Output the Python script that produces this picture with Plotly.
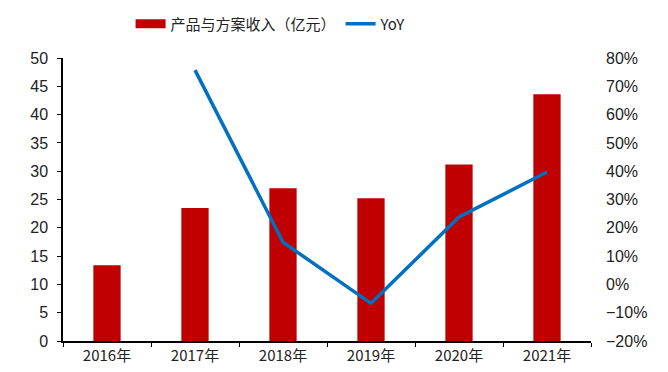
import plotly.graph_objects as go

# Annual product & solution revenue (100M CNY) and its year-over-year growth
years = ["2016年", "2017年", "2018年", "2019年", "2020年", "2021年"]
revenue = [13.4, 23.5, 27.0, 25.2, 31.2, 43.6]
yoy = [None, 0.757, 0.149, -0.067, 0.238, 0.397]

left_ticks = list(range(0, 55, 5))
right_ticks = [-0.2, -0.1, 0.0, 0.1, 0.2, 0.3, 0.4, 0.5, 0.6, 0.7, 0.8]

font_main = "Liberation Sans, Arial, sans-serif"
font_cjk = "Noto Sans CJK SC, sans-serif"
bar_color = "#C00000"
line_color = "#0070C0"
bar_name = "产品与方案收入（亿元）"

fig = go.Figure()
fig.add_trace(go.Bar(
    x=years, y=revenue, name=bar_name, showlegend=False,
    legendgroup="rev",
    marker=dict(color=bar_color, line=dict(width=0)),
    width=0.31, yaxis="y",
))
# legend key for the bars drawn as a wide flat swatch
fig.add_trace(go.Scatter(
    x=[None], y=[None], name=bar_name, mode="lines", legendgroup="rev",
    line=dict(color=bar_color, width=9), yaxis="y",
))
fig.add_trace(go.Scatter(
    x=years, y=yoy, name="YoY", mode="lines",
    line=dict(color=line_color, width=3.5),
    yaxis="y2", connectgaps=False,
))

fig.update_layout(
    width=668, height=372,
    margin=dict(l=63, r=77, t=58, b=31, autoexpand=False),
    paper_bgcolor="white", plot_bgcolor="white",
    font=dict(family=font_main, size=14, color="#222222"),
    showlegend=True,
    legend=dict(
        orientation="h", x=0.128, y=1.12, xanchor="left", yanchor="middle",
        font=dict(family=font_cjk, size=15, color="#222222"),
        itemwidth=30, traceorder="normal",
    ),
    bargap=0.69,
    xaxis=dict(
        type="category", categoryorder="array", categoryarray=years,
        showline=True, linecolor="black", linewidth=1.5,
        ticks="outside", ticklen=4, tickcolor="black", tickson="boundaries",
        showgrid=False, zeroline=False,
        tickfont=dict(family=font_cjk, size=15, color="#222222"),
    ),
    yaxis=dict(
        range=[0, 50], tickvals=left_ticks, showline=True, linecolor="black",
        linewidth=1.5, ticks="outside", ticklen=4, tickcolor="black",
        showgrid=False, zeroline=False, ticklabelstandoff=6,
        tickfont=dict(family=font_main, size=16, color="#222222"),
    ),
    yaxis2=dict(
        range=[-0.2, 0.8], tickvals=right_ticks, tickformat=".0%",
        overlaying="y", side="right", showline=False, showgrid=False,
        zeroline=False, ticks="", ticklabelstandoff=14,
        tickfont=dict(family=font_main, size=16, color="#222222"),
    ),
)

fig.write_html("out.html")
